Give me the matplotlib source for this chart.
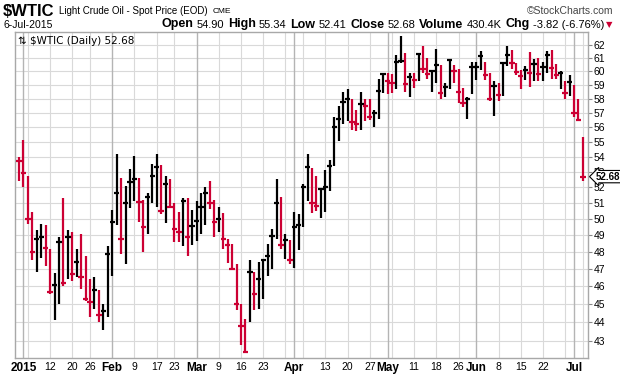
import numpy as np
import pandas as pd
import matplotlib
matplotlib.use('Agg')
import matplotlib.pyplot as plt
from matplotlib.ticker import NullLocator, FixedLocator, FixedFormatter
from matplotlib.transforms import blended_transform_factory

plt.rcParams['font.family'] = ['Liberation Sans', 'DejaVu Sans']

# trading days 31-Dec-2014 .. 6-Jul-2015
holidays = ['2015-01-01', '2015-01-19', '2015-02-16', '2015-04-03',
            '2015-05-25', '2015-07-03']
dates = pd.bdate_range('2014-12-31', '2015-07-06')
dates = dates[~dates.isin(pd.to_datetime(holidays))]

prev_close = 54.1

high = [54.0, 55.1, 52.7, 50.4, 49.3, 49.7, 49.65, 48.2, 46.75, 48.9,
        51.3, 49.3, 49.2, 48.2, 49.05, 47.75, 46.4, 46.55, 45.8, 45.0,
        48.35, 50.56, 54.2, 52.6, 52.1, 53.2, 54.05, 52.6, 51.2, 51.6,
        53.5, 54.2, 53.45, 52.7, 52.5, 51.0, 50.4, 51.3, 51.3, 50.55,
        51.1, 51.6, 52.0, 52.4, 51.2, 50.75, 50.35, 48.8, 48.5, 47.3,
        45.0, 44.2, 47.5, 46.8, 47.4, 47.6, 48.5, 49.4, 52.5, 51.35,
        49.1, 48.7, 50.4, 50.3, 52.2, 54.15, 53.25, 52.7, 51.9, 53.1,
        53.8, 56.7, 57.5, 58.45, 58.7, 58.0, 57.2, 58.45, 57.95, 57.95,
        57.2, 59.4, 59.9, 59.9, 59.8, 61.2, 62.7, 61.4, 59.9, 59.85,
        61.35, 61.9, 61.0, 60.1, 61.7, 60.45, 59.15, 60.9, 60.45, 60.2,
        58.75, 58.15, 60.7, 60.7, 61.55, 60.7, 59.9, 59.25, 59.1, 60.65,
        61.9, 61.6, 60.65, 60.1, 60.4, 61.45, 60.95, 61.0, 60.7, 61.5,
        61.6, 60.55, 60.0, 59.3, 59.75, 59.0, 57.95, 55.34]

low = [52.4, 52.0, 49.7, 47.5, 46.8, 47.65, 47.15, 45.6, 44.15, 45.0,
       46.05, 46.4, 46.3, 46.55, 45.85, 45.2, 44.3, 44.75, 44.0, 43.6,
       44.3, 46.6, 49.6, 47.9, 47.3, 50.7, 51.1, 49.8, 48.0, 49.1,
       51.0, 50.75, 50.3, 49.75, 50.75, 48.6, 48.6, 48.35, 47.75, 48.4,
       48.65, 49.05, 49.6, 50.6, 48.9, 49.2, 48.15, 47.35, 46.95, 44.7,
       42.8, 42.4, 44.0, 44.7, 44.75, 45.3, 46.6, 47.0, 48.75, 48.2,
       47.6, 47.3, 47.05, 48.1, 49.5, 51.1, 50.35, 50.5, 50.05, 50.45,
       51.75, 53.35, 55.05, 56.2, 56.4, 55.8, 55.7, 55.8, 56.45, 56.5,
       56.0, 56.55, 58.4, 58.35, 58.4, 58.7, 60.6, 58.5, 58.15, 58.75,
       59.25, 59.85, 59.4, 58.45, 59.15, 57.95, 58.15, 58.7, 59.15, 57.7,
       57.4, 56.55, 58.35, 59.35, 60.1, 59.35, 57.85, 56.75, 57.85, 58.2,
       60.4, 60.2, 59.7, 58.7, 59.35, 58.85, 59.25, 59.25, 59.25, 59.9,
       59.4, 59.4, 58.7, 58.0, 58.2, 56.7, 56.5, 52.41]

close = [53.7, 52.9, 50.0, 48.0, 48.8, 48.9, 48.25, 45.7, 46.1, 48.6,
         46.2, 48.9, 46.7, 47.4, 46.55, 45.3, 45.1, 45.8, 44.4, 44.6,
         47.9, 49.83, 51.6, 48.75, 50.97, 52.35, 52.5, 51.05, 49.5, 51.4,
         52.7, 53.3, 50.5, 52.2, 50.75, 49.4, 49.2, 51.1, 48.9, 49.55,
         49.9, 50.75, 51.65, 51.0, 49.8, 50.0, 48.8, 48.4, 47.0, 45.0,
         43.8, 42.4, 46.85, 45.6, 46.4, 47.55, 47.75, 48.95, 51.0, 48.4,
         48.7, 47.55, 49.5, 49.6, 52.0, 53.3, 51.0, 50.8, 51.85, 52.0,
         53.4, 56.0, 56.55, 57.75, 58.0, 56.35, 56.2, 57.6, 57.45, 56.7,
         57.0, 58.55, 59.8, 59.3, 59.1, 60.7, 60.8, 59.05, 59.55, 59.35,
         61.3, 60.15, 59.8, 60.0, 60.45, 58.4, 58.85, 60.85, 60.05, 58.45,
         57.7, 58.0, 60.3, 60.35, 61.15, 59.7, 57.95, 58.95, 58.3, 60.65,
         61.2, 60.65, 59.95, 59.65, 60.1, 59.9, 60.55, 59.8, 60.35, 61.2,
         60.25, 59.7, 59.85, 58.4, 59.2, 57.0, 56.5, 52.68]

yticks = list(range(43, 63))

RED = '#cc0033'
W, H = 620, 376

high = np.array(high)
low = np.array(low)
close = np.array(close)
x = np.arange(len(close))
chg = np.diff(np.concatenate([[prev_close], close]))
cols = np.where(chg >= 0, 'black', RED)

fig = plt.figure(figsize=(W / 100, H / 100), dpi=100)
ax = fig.add_axes([15 / W, 1 - 358 / H, 573 / W, 326 / H])
ax.set_yscale('log')
ax.set_xlim(-0.9, 128.15)
ax.set_ylim(42.11, 62.98)

# grid
for v in yticks:
    ax.axhline(v, color='#d9d9d9', lw=0.8, zorder=0)
wk = pd.Index(dates.isocalendar().week)
week_start = [i for i in range(1, len(dates)) if wk[i] != wk[i - 1]]
month_start = [i for i in range(1, len(dates)) if dates[i].month != dates[i - 1].month]
for i in week_start:
    if i not in month_start:
        ax.axvline(i, color='#d9d9d9', lw=0.8, zorder=0)
for i in month_start:
    ax.axvline(i, color='#b4b4b4', lw=1.0, zorder=0)

# HLC bars
ax.vlines(x, low, high, colors=cols, lw=1.6, zorder=3)
ax.hlines(close, x - 0.6, x + 0.6, colors=cols, lw=1.6, zorder=3)

# y axis on the right
ax.yaxis.tick_right()
ax.yaxis.set_major_locator(FixedLocator(yticks))
ax.yaxis.set_major_formatter(FixedFormatter([str(v) for v in yticks]))
ax.yaxis.set_minor_locator(NullLocator())
ax.tick_params(axis='y', length=3, width=0.8, color='#888888', pad=1,
               labelsize=7.5)

# x labels
xt, xl = [], []
for i in month_start:
    xt.append(i)
    xl.append('2015' if dates[i].month == 1 else dates[i].strftime('%b'))
for i in week_start:
    if min(abs(i - m) for m in month_start) > 2:
        xt.append(i)
        xl.append(str(dates[i].day))
order = np.argsort(xt)
xt = [xt[k] for k in order]
xl = [xl[k] for k in order]
ax.set_xticks(xt)
ax.set_xticklabels(xl)
ax.xaxis.set_minor_locator(NullLocator())
ax.tick_params(axis='x', length=0, pad=3, labelsize=7.5)
for t in ax.get_xticklabels():
    if not t.get_text().isdigit() or t.get_text() == '2015':
        t.set_fontweight('bold')
        t.set_fontsize(8.5)

for s in ax.spines.values():
    s.set_color('#a8a8a8')
    s.set_linewidth(1.0)

# legend inside chart
ax.text(0.006, 0.972, '\u21c5 \\$WTIC (Daily) 52.68', transform=ax.transAxes,
        ha='left', va='center', fontsize=7.5, family=['DejaVu Sans'],
        zorder=5)

# last price box
tr = blended_transform_factory(ax.transAxes, ax.transData)
ax.text(1.014, close[-1], '52.68', transform=tr, ha='left', va='center',
        fontsize=7, fontweight='bold', zorder=6, clip_on=False,
        bbox=dict(boxstyle='larrow,pad=0.12', fc='white', ec='black', lw=0.8))

# header
def fx(px):
    return px / W

def fy(py):
    return 1 - py / H

renderer = fig.canvas.get_renderer()
fig.text(fx(3), fy(11), '\\$WTIC', fontsize=12, fontweight='bold',
         ha='left', va='center')
t1 = fig.text(fx(59), fy(11.5), 'Light Crude Oil - Spot Price (EOD)',
              fontsize=7, ha='left', va='center')
e1 = t1.get_window_extent(renderer)
fig.text(e1.x1 / W + fx(5), fy(11.5), 'CME', fontsize=6, ha='left',
         va='center')
fig.text(fx(613), fy(11.5), '\u00a9StockCharts.com', fontsize=7.5,
         color='#444444', ha='right', va='center')
fig.text(fx(3), fy(24.5), '6-Jul-2015', fontsize=7.5, ha='left', va='center')

pieces = [('Open', True), ('54.90', False), ('High', True), ('55.34', False),
          ('Low', True), ('52.41', False), ('Close', True), ('52.68', False),
          ('Volume', True), ('430.4K', False), ('Chg', True),
          ('-3.82 (-6.76%)', False)]
fig.text(fx(612), fy(25), '\u25bc', fontsize=6, color=RED, ha='right',
         va='center', family=['DejaVu Sans'])
cur = 604
for txt, bold in reversed(pieces):
    t = fig.text(fx(cur), fy(24.5), txt, fontsize=9 if bold else 8,
                 fontweight='bold' if bold else 'normal', ha='right',
                 va='center')
    w = t.get_window_extent(renderer).width
    cur -= w + (4 if bold else 3)

fig.savefig('out.png', dpi=100)
